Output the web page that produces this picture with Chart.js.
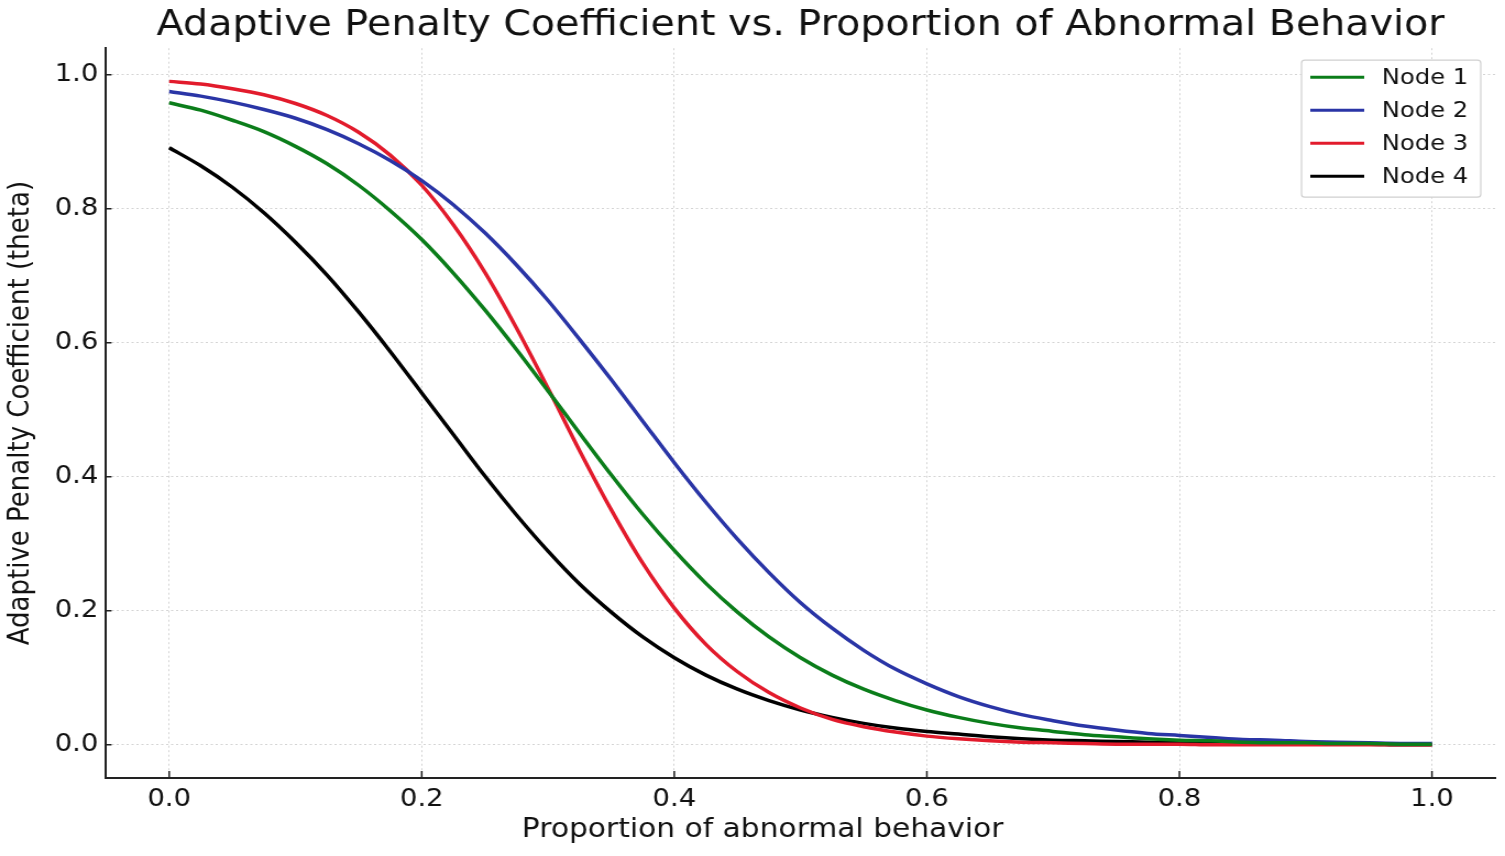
<!DOCTYPE html>
<html>
<head>
<meta charset="utf-8">
<script src="https://cdn.jsdelivr.net/npm/chart.js@4.4.1/dist/chart.umd.min.js"></script>
<style>
  html, body { margin: 0; padding: 0; background: #fff; overflow: hidden; }
  #chart { display: block; }
</style>
</head>
<body>
<!-- the reference glyphs are a little wide, so the canvas is drawn narrower and stretched -->
<canvas id="chart" width="1368" height="856" style="width:1505px;height:856px"></canvas>
<script>
// --------------------------------------------------------------------
// Data
// --------------------------------------------------------------------
const proportion = [0, 0.025, 0.05, 0.075, 0.10, 0.125, 0.15, 0.175, 0.20, 0.225,
                    0.25, 0.275, 0.30, 0.325, 0.35, 0.375, 0.40, 0.425, 0.45, 0.475,
                    0.50, 0.525, 0.55, 0.575, 0.60, 0.625, 0.65, 0.675, 0.70, 0.725,
                    0.75, 0.775, 0.80, 0.825, 0.85, 0.875, 0.90, 0.925, 0.95, 0.975, 1.0];
const node1 = [0.958, 0.947, 0.932, 0.915, 0.893, 0.867, 0.835, 0.797, 0.754, 0.704,
               0.649, 0.590, 0.528, 0.465, 0.403, 0.344, 0.290, 0.241, 0.198, 0.161,
               0.130, 0.104, 0.083, 0.066, 0.052, 0.041, 0.032, 0.025, 0.020, 0.015,
               0.012, 0.009, 0.007, 0.006, 0.004, 0.003, 0.003, 0.002, 0.002, 0.001, 0.001];
const node2 = [0.975, 0.968, 0.959, 0.948, 0.935, 0.918, 0.897, 0.872, 0.842, 0.806,
               0.764, 0.716, 0.663, 0.605, 0.545, 0.483, 0.421, 0.362, 0.307, 0.257,
               0.212, 0.174, 0.141, 0.113, 0.091, 0.072, 0.057, 0.045, 0.036, 0.028,
               0.022, 0.017, 0.014, 0.011, 0.008, 0.007, 0.005, 0.004, 0.003, 0.002, 0.002];
const node3 = [0.990, 0.986, 0.979, 0.970, 0.957, 0.939, 0.914, 0.880, 0.835, 0.776,
               0.705, 0.622, 0.532, 0.439, 0.351, 0.271, 0.204, 0.150, 0.109, 0.078,
               0.055, 0.038, 0.027, 0.019, 0.013, 0.009, 0.006, 0.004, 0.003, 0.002,
               0.001, 0.001, 0.001, 0.000, 0.000, 0.000, 0.000, 0.000, 0.000, 0.000, 0.000];
const node4 = [0.891, 0.864, 0.832, 0.794, 0.750, 0.701, 0.646, 0.587, 0.525, 0.463,
               0.401, 0.343, 0.289, 0.240, 0.198, 0.161, 0.130, 0.104, 0.083, 0.066,
               0.052, 0.041, 0.032, 0.025, 0.020, 0.016, 0.012, 0.009, 0.007, 0.006,
               0.005, 0.004, 0.003, 0.002, 0.002, 0.001, 0.001, 0.001, 0.001, 0.000, 0.000];

const seriesLabels = ['Node 1', 'Node 2', 'Node 3', 'Node 4'];
const xTicks = [0, 0.2, 0.4, 0.6, 0.8, 1.0];
const yTicks = [0, 0.2, 0.4, 0.6, 0.8, 1.0];
const xTitle = 'Proportion of abnormal behavior';

const FONT = "'DejaVu Sans', Verdana, sans-serif";
const colors = ['#0b7d1a', '#2a35a6', '#e21b2c', '#000000'];

const toPoints = arr => proportion.map((x, i) => ({ x: x, y: arr[i] }));

// --------------------------------------------------------------------
// Plugins: inward tick marks, x label, matplotlib style legend box
// --------------------------------------------------------------------
const innerTicks = {
    id: 'innerTicks',
    afterDraw(chart) {
        const { ctx, chartArea: a, scales: { x, y } } = chart;
        ctx.save();
        ctx.strokeStyle = '#222';
        ctx.lineWidth = 1.5;
        ctx.beginPath();
        x.ticks.forEach(t => {
            const px = x.getPixelForValue(t.value);
            ctx.moveTo(px, a.bottom);
            ctx.lineTo(px, a.bottom - 7);
        });
        y.ticks.forEach(t => {
            const py = y.getPixelForValue(t.value);
            ctx.moveTo(a.left, py);
            ctx.lineTo(a.left + 5, py);
        });
        ctx.stroke();

        // x label sits a bit left of the axis centre in the reference
        ctx.fillStyle = '#111';
        ctx.font = '27px ' + FONT;
        ctx.textAlign = 'center';
        ctx.textBaseline = 'middle';
        ctx.fillText(xTitle, x.getPixelForValue(0.47), 830);
        ctx.restore();
    }
};

const boxLegend = {
    id: 'boxLegend',
    afterDatasetsDraw(chart) {
        const { ctx, chartArea: a } = chart;
        const w = 163, h = 137;
        const left = a.right - 13 - w;
        const top = a.top + 12;
        ctx.save();
        ctx.fillStyle = '#ffffff';
        ctx.strokeStyle = '#d0d0d0';
        ctx.lineWidth = 1.2;
        ctx.beginPath();
        ctx.roundRect(left, top, w, h, 3);
        ctx.fill();
        ctx.stroke();
        ctx.font = '22px ' + FONT;
        ctx.textBaseline = 'middle';
        chart.data.datasets.forEach((ds, i) => {
            const cy = top + 17 + i * 33;
            ctx.strokeStyle = ds.borderColor;
            ctx.lineWidth = 3;
            ctx.beginPath();
            ctx.moveTo(left + 8, cy);
            ctx.lineTo(left + 57, cy);
            ctx.stroke();
            ctx.fillStyle = '#111';
            ctx.fillText(ds.label, left + 73, cy + 1);
        });
        ctx.restore();
    }
};

// --------------------------------------------------------------------
// Chart
// --------------------------------------------------------------------
const gridOpts = { color: '#d4d4d4', lineWidth: 1, drawTicks: false };
const borderOpts = { color: '#222', width: 2, dash: [2, 2.5] };

new Chart(document.getElementById('chart'), {
    type: 'line',
    data: {
        datasets: [node1, node2, node3, node4].map((arr, i) => ({
            label: seriesLabels[i],
            data: toPoints(arr),
            borderColor: colors[i],
            backgroundColor: colors[i],
            borderWidth: 3.5,
            pointRadius: 0,
            cubicInterpolationMode: 'monotone',
            fill: false
        }))
    },
    plugins: [innerTicks, boxLegend],
    options: {
        responsive: false,
        animation: false,
        devicePixelRatio: 1,
        layout: { padding: { left: 0, right: 9, top: 0, bottom: 0 } },
        plugins: {
            legend: { display: false },
            tooltip: { enabled: false },
            title: {
                display: true,
                fullSize: false,
                text: 'Adaptive Penalty Coefficient vs. Proportion of Abnormal Behavior',
                color: '#111',
                font: { family: FONT, size: 36, weight: 'normal', lineHeight: 1.2 },
                padding: { top: 4, bottom: 1 }
            }
        },
        scales: {
            x: {
                type: 'linear',
                min: -0.05,
                max: 1.05,
                afterBuildTicks: s => { s.ticks = xTicks.map(v => ({ value: v })); },
                afterFit: s => { s.height = 78; },
                grid: gridOpts,
                border: borderOpts,
                ticks: {
                    color: '#111',
                    padding: 6,
                    maxRotation: 0,
                    font: { family: FONT, size: 25 },
                    callback: v => Number(v).toFixed(1)
                },
                title: { display: false }
            },
            y: {
                type: 'linear',
                min: -0.0495,
                max: 1.0395,
                afterBuildTicks: s => { s.ticks = yTicks.map(v => ({ value: v })); },
                afterFit: s => { s.width = 96.4; },
                grid: gridOpts,
                border: borderOpts,
                ticks: {
                    color: '#111',
                    padding: 7,
                    font: { family: FONT, size: 25 },
                    callback: v => Number(v).toFixed(1)
                },
                title: {
                    display: true,
                    text: 'Adaptive Penalty Coefficient (theta)',
                    color: '#111',
                    font: { family: FONT, size: 26, lineHeight: 1.2 },
                    padding: { top: 4, bottom: 0 }
                }
            }
        }
    }
});
</script>
</body>
</html>
